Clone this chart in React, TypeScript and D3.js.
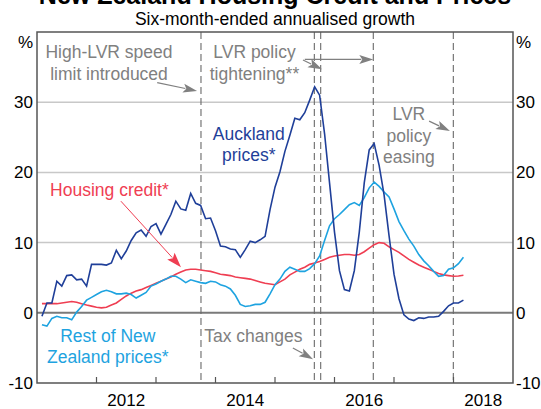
import React from "react";
import * as d3 from "d3";

// Monthly observations, starting Feb 2011 (six-month-ended annualised growth, %)
const startYear = 2011;
const startMonth = 1; // 0-based month index of first observation offset

const auckland = [
  -0.5, 1.4, 1.4, 4.5, 3.8, 5.3, 5.4, 4.7, 4.8, 3.8,
  6.9, 6.9, 6.9, 6.8, 7.1, 8.9, 7.7, 8.8, 10.3, 11.4,
  11.8, 10.9, 12.3, 12.7, 11.2, 12.6, 14.0, 15.9, 14.8, 14.6,
  17.0, 15.6, 15.3, 13.4, 13.5, 11.7, 9.5, 9.4, 9.1, 9.0,
  7.9, 9.0, 10.2, 10.0, 10.4, 10.9, 14.7, 17.9, 20.1, 23.0,
  25.3, 27.7, 27.5, 28.5, 30.3, 32.2, 31.0, 25.5, 18.5, 11.5,
  6.0, 3.3, 3.1, 6.0, 11.5, 18.5, 23.2, 24.1, 21.0, 16.8,
  11.0, 5.5, 2.0, -0.3, -0.9, -1.1, -0.7, -0.8, -0.6, -0.6,
  -0.5, 0.2, 1.0, 1.4, 1.4, 1.8,
];

const restOfNZ = [
  -1.7, -1.9, -0.8, -0.5, -0.7, -0.7, -1.0, 0.1, 0.9, 1.8,
  2.2, 2.6, 3.0, 3.2, 3.0, 2.7, 2.7, 2.8, 2.6, 2.1,
  2.5, 2.9, 3.8, 4.1, 4.5, 4.8, 5.2, 5.2, 4.8, 4.3,
  4.7, 4.5, 4.3, 4.2, 4.5, 4.4, 4.0, 3.8, 3.4, 2.5,
  1.2, 0.9, 1.0, 1.2, 1.2, 1.5, 2.7, 4.0, 4.8, 5.9,
  6.5, 6.2, 5.9, 5.9, 6.3, 7.0, 8.1, 10.3, 12.4, 13.4,
  14.0, 14.7, 15.4, 15.7, 15.3, 16.4, 17.8, 18.6, 18.0, 17.2,
  16.5, 14.8, 13.0, 11.7, 10.5, 9.5, 8.3, 7.4, 6.7, 5.9,
  5.2, 5.3, 6.2, 6.4, 7.0, 7.9,
];

const housingCredit = [
  1.3, 1.3, 1.3, 1.3, 1.4, 1.5, 1.6, 1.5, 1.3, 1.1,
  0.95, 0.8, 0.7, 0.8, 1.1, 1.4, 1.9, 2.4, 2.8, 3.1,
  3.3, 3.6, 3.9, 4.2, 4.5, 4.8, 5.1, 5.5, 5.8, 6.1,
  6.2, 6.2, 6.1, 6.0, 5.9, 5.7, 5.5, 5.4, 5.3, 5.1,
  5.0, 4.9, 4.8, 4.6, 4.4, 4.2, 4.1, 4.0, 4.4, 4.8,
  5.4, 5.8, 6.2, 6.5, 6.9, 7.1, 7.3, 7.6, 7.9, 8.1,
  8.2, 8.3, 8.3, 8.2, 8.3, 8.7, 9.2, 9.7, 10.0, 9.9,
  9.4, 9.0, 8.6, 8.1, 7.6, 7.2, 6.8, 6.5, 6.2, 5.9,
  5.6, 5.4, 5.3, 5.2, 5.25, 5.35,
];

// Policy event dates (decimal years)
const eventDates = [2013.756, 2015.661, 2015.768, 2016.652, 2017.997];

const yTicks = [-10, 0, 10, 20, 30];
const yearTicks = [2012, 2013, 2014, 2015, 2016, 2017, 2018];
const yearLabels = [2012, 2014, 2016, 2018];

const W = 541;
const H = 409;
const FONT = "'Liberation Sans', Arial, Helvetica, sans-serif";
const GREY = "#808080";
const C_AKL = "#1f3f99";
const C_REST = "#1ea3e0";
const C_CRED = "#ef3e52";

function t(i: number) {
  return startYear + (startMonth + i) / 12;
}

function Arrow({ x1, y1, x2, y2, color, len = 14, wid = 9, sw = 1.2 }: any) {
  const dx = x2 - x1;
  const dy = y2 - y1;
  const L = Math.sqrt(dx * dx + dy * dy);
  const ux = dx / L;
  const uy = dy / L;
  const bx = x2 - ux * len;
  const by = y2 - uy * len;
  const px = -uy * (wid / 2);
  const py = ux * (wid / 2);
  return (
    <g>
      <line x1={x1} y1={y1} x2={bx + ux * 2} y2={by + uy * 2} stroke={color} strokeWidth={sw} />
      <path
        d={`M${x2},${y2}L${bx + px},${by + py}L${bx + ux * 3},${by + uy * 3}L${bx - px},${by - py}Z`}
        fill={color}
      />
    </g>
  );
}

export default function App() {
  const left = 37;
  const right = 513;
  const top = 32;
  const bottom = 383;
  const x = d3.scaleLinear().domain([2011, 2019]).range([left, right]);
  const y = d3.scaleLinear().domain([-10, 40]).range([bottom, top]);

  const line = d3
    .line<number>()
    .x((_, i) => x(t(i)))
    .y((d) => y(d));

  const fs = 17.5;

  return (
    <svg
      width={W}
      height={H}
      style={{ position: "absolute", left: 0, top: 0, background: "#fff" }}
      fontFamily={FONT}
    >
      {/* title */}
      <text x={275} y={4} textAnchor="middle" fontSize={25} fontWeight="bold" fill="#000">
        New Zealand Housing Credit and Prices
      </text>
      <text x={275} y={25} textAnchor="middle" fontSize={17.5} fill="#000">
        Six-month-ended annualised growth
      </text>

      {/* gridlines */}
      {yTicks
        .filter((v) => v !== 0 && v !== -10)
        .map((v) => (
          <line key={v} x1={left} x2={right} y1={y(v)} y2={y(v)} stroke="#c8c8c8" strokeWidth={1.5} />
        ))}
      <line x1={left} x2={right} y1={y(0)} y2={y(0)} stroke="#7a7a7a" strokeWidth={2} />

      {/* event lines */}
      {eventDates.map((d, i) => (
        <line
          key={i}
          x1={x(d)}
          x2={x(d)}
          y1={top}
          y2={bottom}
          stroke="#6a6a6a"
          strokeWidth={1.1}
          strokeDasharray="7,4"
        />
      ))}

      {/* series */}
      <path d={line(housingCredit) || ""} fill="none" stroke={C_CRED} strokeWidth={1.6} />
      <path d={line(restOfNZ) || ""} fill="none" stroke={C_REST} strokeWidth={1.6} />
      <path d={line(auckland) || ""} fill="none" stroke={C_AKL} strokeWidth={1.6} />

      {/* frame */}
      <rect x={left} y={top} width={right - left} height={bottom - top} fill="none" stroke="#555" strokeWidth={1.5} />

      {/* x ticks */}
      {yearTicks.map((yr) => (
        <line key={yr} x1={x(yr)} x2={x(yr)} y1={bottom} y2={bottom - 6} stroke="#555" strokeWidth={1.2} />
      ))}
      {yearLabels.map((yr) => (
        <text key={yr} x={x(yr + 0.5)} y={406} textAnchor="middle" fontSize={17} fill="#000">
          {yr}
        </text>
      ))}

      {/* y labels */}
      {yTicks.map((v) => (
        <g key={v}>
          <text x={33} y={y(v) + 6} textAnchor="end" fontSize={17} fill="#000">
            {v}
          </text>
          <text x={516} y={y(v) + 6} textAnchor="start" fontSize={17} fill="#000">
            {v}
          </text>
        </g>
      ))}
      <text x={33} y={48} textAnchor="end" fontSize={17} fill="#000">%</text>
      <text x={516} y={48} textAnchor="start" fontSize={17} fill="#000">%</text>

      {/* annotations */}
      <g fontSize={fs} fill={GREY}>
        <text x={x(2012.21)} y={y(36.3)} textAnchor="middle">High-LVR speed</text>
        <text x={x(2012.21)} y={y(33.2)} textAnchor="middle">limit introduced</text>
        <text x={x(2014.655)} y={y(36.3)} textAnchor="middle">LVR policy</text>
        <text x={x(2014.655)} y={y(33.2)} textAnchor="middle">tightening**</text>
        <text x={x(2017.25)} y={y(27.5)} textAnchor="middle">LVR</text>
        <text x={x(2017.25)} y={y(24.4)} textAnchor="middle">policy</text>
        <text x={x(2017.25)} y={y(21.3)} textAnchor="middle">easing</text>
        <text x={x(2013.81)} y={y(-4.2)} textAnchor="start">Tax changes</text>
      </g>
      <Arrow x1={x(2013.02)} y1={y(32.8)} x2={x(2013.69)} y2={y(31.6)} color={GREY} />
      <Arrow x1={x(2015.47)} y1={y(36.0)} x2={x(2015.79)} y2={y(34.7)} color={GREY} />
      <Arrow x1={x(2015.5)} y1={y(36.1)} x2={x(2016.652)} y2={y(36.1)} color={GREY} />
      <Arrow x1={x(2017.59)} y1={y(27.3)} x2={x(2017.94)} y2={y(25.9)} color={GREY} />
      <Arrow x1={x(2015.3)} y1={y(-5.0)} x2={x(2015.64)} y2={y(-6.6)} color={GREY} />

      <g fontSize={fs} textAnchor="middle" fill={C_AKL}>
        <text x={x(2014.56)} y={y(24.6)}>Auckland</text>
        <text x={x(2014.56)} y={y(21.6)}>prices*</text>
      </g>
      <text x={x(2011.22)} y={y(16.6)} fontSize={fs} fill={C_CRED}>Housing credit*</text>
      <Arrow x1={x(2012.41)} y1={y(15.9)} x2={x(2013.42)} y2={y(6.5)} color={C_CRED} sw={1} len={15} wid={10} />
      <g fontSize={fs} textAnchor="middle" fill={C_REST}>
        <text x={x(2012.19)} y={y(-4.2)}>Rest of New</text>
        <text x={x(2012.19)} y={y(-7.2)}>Zealand prices*</text>
      </g>
    </svg>
  );
}
